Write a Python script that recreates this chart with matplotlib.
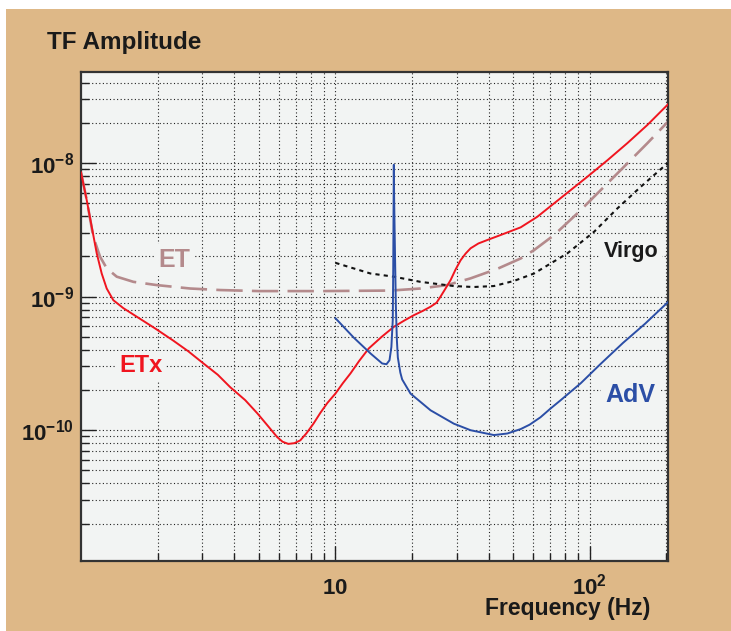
import matplotlib
matplotlib.use("Agg")
import matplotlib.pyplot as plt
from matplotlib.patches import Rectangle
from matplotlib.ticker import LogLocator, NullFormatter, FixedLocator, FixedFormatter

plt.rcParams['font.family'] = ['Liberation Sans', 'DejaVu Sans']
plt.rcParams['font.weight'] = 'bold'
plt.rcParams['mathtext.fontset'] = 'custom'
plt.rcParams['mathtext.rm'] = 'Liberation Sans:bold'
plt.rcParams['mathtext.bf'] = 'Liberation Sans:bold'
plt.rcParams['mathtext.default'] = 'rm'

# ---------------- data ----------------
etx_f = [1.0, 1.053, 1.102, 1.153, 1.206, 1.262, 1.34, 1.467, 1.657, 1.956, 2.30, 2.64,
         3.03, 3.45, 3.86, 4.42, 4.93, 5.40, 5.90, 6.2, 6.53, 6.9, 7.28, 7.7, 8.2, 8.73,
         9.3, 10.0, 10.7, 11.46, 12.4, 13.52, 15.2, 16.97, 18.6, 20.34, 22.0, 23.66,
         24.98, 25.9, 27.1, 28.37, 29.7, 31.05, 32.5, 34.0, 36.5, 39.5, 44.6, 53.5, 62.2,
         72.4, 84.2, 97.9, 117.4, 140.6, 168.6, 203.0]
etx_y = [8.5e-9, 5.28e-9, 3.33e-9, 2.11e-9, 1.49e-9, 1.15e-9, 9.4e-10, 8.2e-10, 7.07e-10,
         5.78e-10, 4.7e-10, 3.9e-10, 3.16e-10, 2.6e-10, 2.1e-10, 1.68e-10, 1.34e-10,
         1.09e-10, 8.9e-11, 8.2e-11, 7.9e-11, 8.0e-11, 8.4e-11, 9.5e-11, 1.12e-10,
         1.35e-10, 1.6e-10, 1.88e-10, 2.25e-10, 2.66e-10, 3.3e-10, 4.09e-10, 5.0e-10,
         5.94e-10, 6.6e-10, 7.26e-10, 7.8e-10, 8.4e-10, 9.0e-10, 1.0e-9, 1.15e-9, 1.33e-9,
         1.6e-9, 1.87e-9, 2.1e-9, 2.3e-9, 2.5e-9, 2.65e-9, 2.89e-9, 3.3e-9, 3.96e-9,
         4.99e-9, 6.28e-9, 7.9e-9, 1.05e-8, 1.41e-8, 1.93e-8, 2.75e-8]

et_f = [1.0, 1.053, 1.118, 1.188, 1.262, 1.382, 1.607, 1.986, 2.686, 3.525, 5.0, 8.73,
        16.5, 21.6, 27.5, 34.0, 43.5, 53.5, 60.4, 72.4, 89.4, 110.5, 136.5, 168.6, 203.0]
et_y = [8.5e-9, 5.3e-9, 2.8e-9, 1.99e-9, 1.63e-9, 1.41e-9, 1.29e-9, 1.22e-9, 1.15e-9,
        1.12e-9, 1.1e-9, 1.1e-9, 1.11e-9, 1.15e-9, 1.22e-9, 1.37e-9, 1.62e-9, 1.93e-9,
        2.23e-9, 2.89e-9, 4.2e-9, 6.28e-9, 9.4e-9, 1.41e-8, 2.04e-8]

virgo_f = [10.0, 13.73, 16.97, 21.6, 29.2, 34.9, 42.0, 50.3, 60.4, 81.7, 104.0, 128.5,
           158.8, 202.0]
virgo_y = [1.79e-9, 1.49e-9, 1.41e-9, 1.29e-9, 1.2e-9, 1.18e-9, 1.2e-9, 1.31e-9, 1.49e-9,
           2.11e-9, 3.06e-9, 4.58e-9, 6.65e-9, 9.95e-9]

adv_f = [10.0, 11.8, 13.73, 15.27, 15.88, 16.32, 16.6, 16.81, 16.88, 16.93, 16.97, 17.02,
         17.12, 17.29, 17.45, 17.6, 18.0, 18.3, 19.74, 23.66, 29.2, 34.0, 42.0, 47.4,
         53.5, 58.0, 64.0, 70.0, 76.9, 92.2, 110.0, 135.0, 165.0, 203.0]
adv_y = [6.9e-10, 4.94e-10, 3.76e-10, 3.16e-10, 3.12e-10, 3.34e-10, 4.2e-10, 6.7e-10,
         1.6e-9, 4.5e-9, 9.7e-9, 5.5e-9, 2.6e-9, 8.4e-10, 4.7e-10, 3.5e-10, 2.7e-10,
         2.4e-10, 1.88e-10, 1.41e-10, 1.12e-10, 1.0e-10, 9.2e-11, 9.45e-11, 1.02e-10,
         1.1e-10, 1.25e-10, 1.45e-10, 1.68e-10, 2.25e-10, 3.12e-10, 4.5e-10, 6.27e-10,
         9.1e-10]

x_ticks = [10, 100]
x_ticklabels = ['$10$', '$10^{2}$']
y_ticks = [1e-10, 1e-9, 1e-8]
y_ticklabels = ['$10^{-10}$', '$10^{-9}$', '$10^{-8}$']

# ---------------- figure ----------------
W, H = 731, 631
fig = plt.figure(figsize=(W / 100, H / 100), dpi=100, facecolor='white')
fig.patches.append(Rectangle((6 / W, 0), 1, 1 - 9 / H, transform=fig.transFigure,
                             facecolor='#deb887', edgecolor='none', zorder=-10))

ax = fig.add_axes([81 / W, (H - 561) / H, (668 - 81) / W, (561 - 72) / H])
ax.set_zorder(5)
ax.set_facecolor('#f2f4f3')
ax.set_xscale('log')
ax.set_yscale('log')
ax.set_xlim(1.0, 203.0)
ax.set_ylim(1.05e-11, 4.8e-8)

ax.plot(etx_f, etx_y, color='#f0151f', lw=1.4, zorder=3)
ax.plot(et_f, et_y, color='#b48a8c', lw=1.9, dashes=(10, 3.5), zorder=2.5)
ax.plot(virgo_f, virgo_y, color='#111111', lw=1.5, dashes=(2, 2.0), zorder=2.6)
ax.plot(adv_f, adv_y, color='#2b4ea6', lw=1.4, zorder=3)

ax.xaxis.set_major_locator(FixedLocator(x_ticks))
ax.xaxis.set_major_formatter(FixedFormatter(x_ticklabels))
ax.xaxis.set_minor_locator(LogLocator(base=10, subs=range(2, 10), numticks=20))
ax.xaxis.set_minor_formatter(NullFormatter())
ax.yaxis.set_major_locator(FixedLocator(y_ticks))
ax.yaxis.set_major_formatter(FixedFormatter(y_ticklabels))
ax.yaxis.set_minor_locator(LogLocator(base=10, subs=range(2, 10), numticks=20))
ax.yaxis.set_minor_formatter(NullFormatter())

ax.set_axisbelow(True)
ax.grid(True, which='both', color='#222222', lw=0.8, linestyle=(0, (1, 2.2)))

ax.tick_params(axis='both', which='both', direction='in', color='#222222', width=1.0,
               top=False, right=False, labelsize=16, labelcolor='#1a1a1a')
ax.tick_params(axis='both', which='major', length=11)
ax.tick_params(axis='both', which='minor', length=6)
ax.tick_params(axis='y', which='major', pad=5)
ax.tick_params(axis='x', which='major', pad=24)
for lab in ax.get_xticklabels():
    lab.set_verticalalignment('baseline')

for s in ax.spines.values():
    s.set_color('#333333')
    s.set_linewidth(1.6)

# ---------------- texts ----------------
def ftext(x, y, s, **kw):
    return fig.text(x / W, 1 - y / H, s, **kw)

ftext(47, 43, 'TF Amplitude', fontsize=17.5, fontweight='bold', color='#1a1a1a',
      ha='left', va='center')
ftext(650, 609, 'Frequency (Hz)', fontsize=16.5, fontweight='bold', color='#1a1a1a',
      ha='right', va='center')

box = dict(boxstyle='square,pad=0.15', facecolor='#f2f4f3', edgecolor='none')

def atext(x, y, s, **kw):
    # position in figure pixels, drawn in the axes so its box hides the grid
    return ax.text(x / W, 1 - y / H, s, transform=fig.transFigure, ha='center',
                   va='center', fontweight='bold', bbox=box, zorder=1.5, **kw)

atext(174, 260, 'ET', fontsize=18, color='#b48a8c')
atext(141, 366, 'ETx', fontsize=17, color='#f0151f')
atext(631, 252, 'Virgo', fontsize=15.5, color='#1a1a1a')
atext(630, 395, 'AdV', fontsize=18, color='#2b4ea6')

fig.savefig('out.png', dpi=100, facecolor=fig.get_facecolor())
